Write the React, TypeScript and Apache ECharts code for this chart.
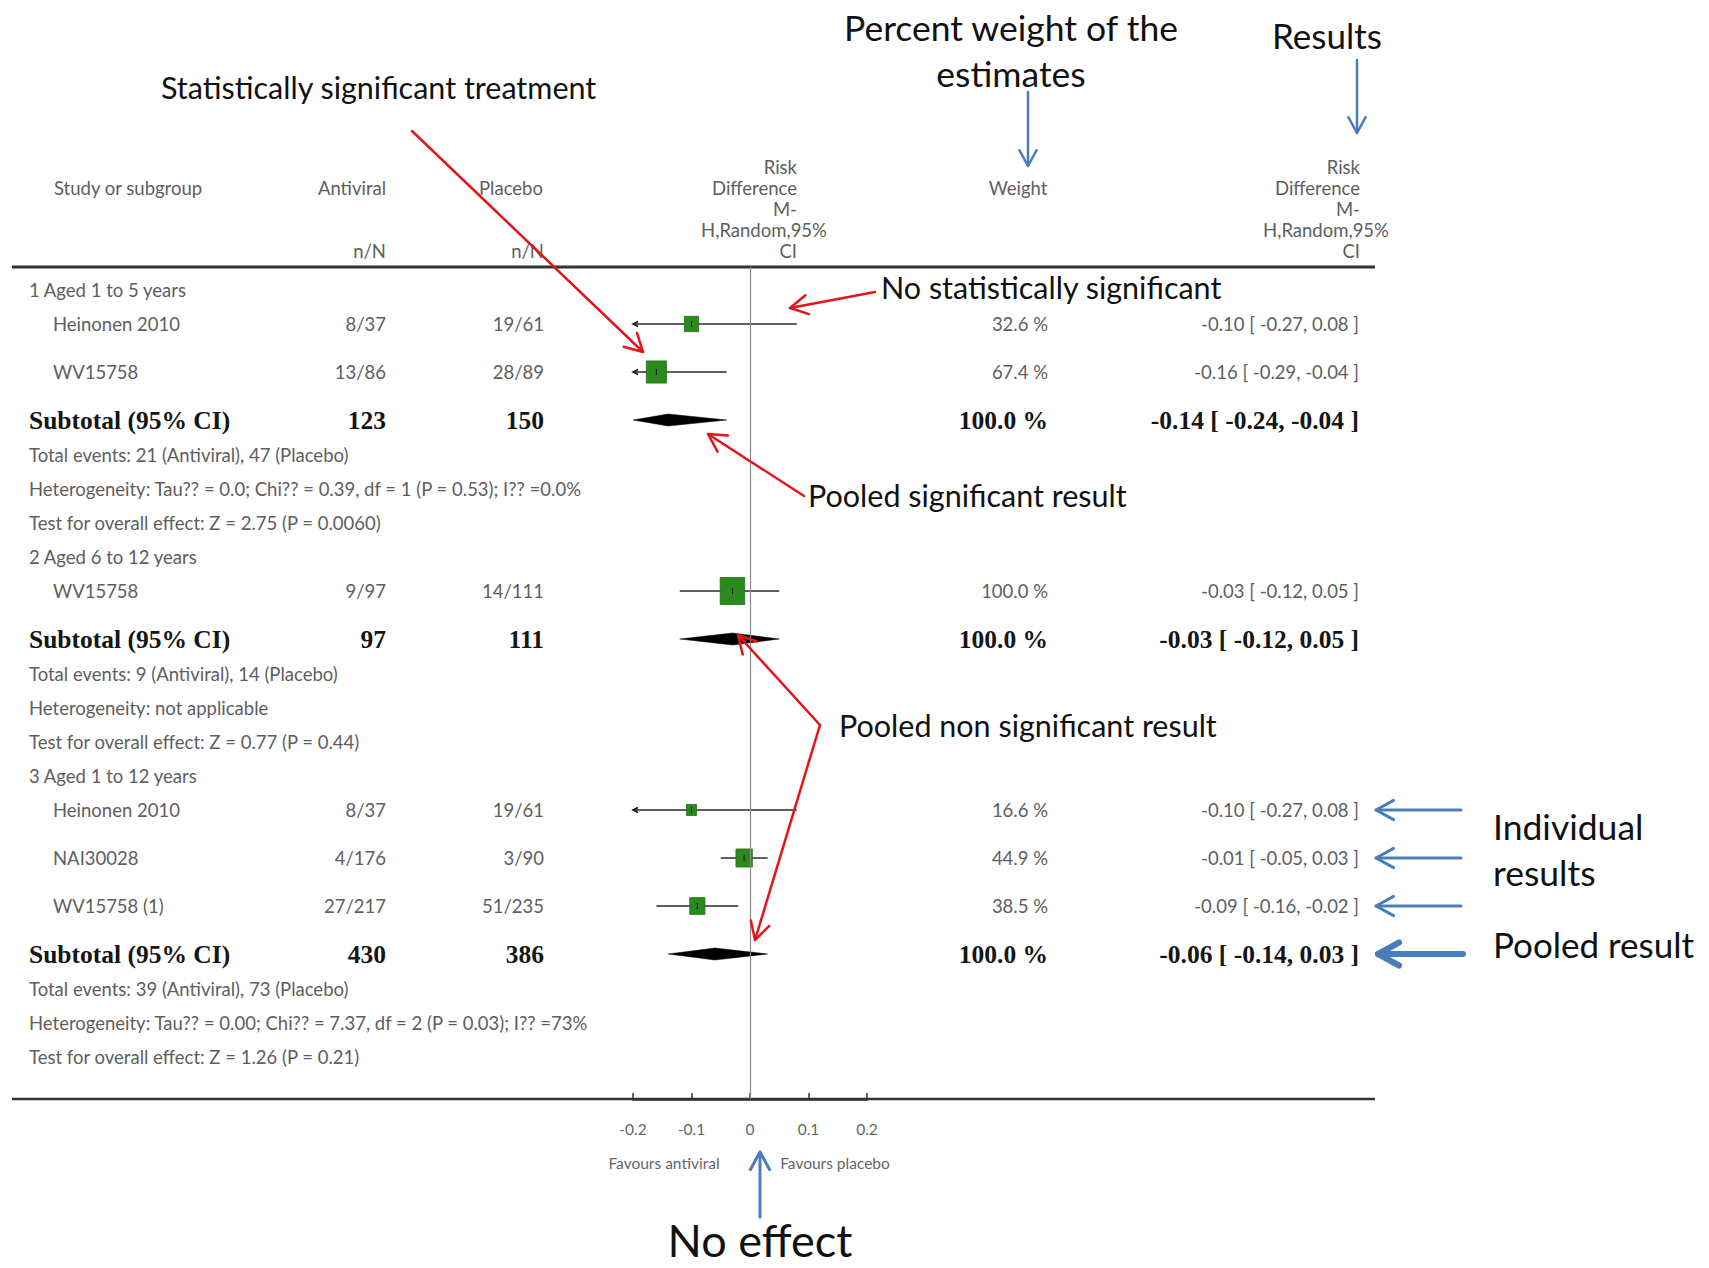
import React, { useEffect, useRef } from "react";
import * as echarts from "echarts";

// ---------------- data ----------------
const subgroupTitles = ["1 Aged 1 to 5 years", "2 Aged 6 to 12 years", "3 Aged 1 to 12 years"];
const studyGroup = [0, 0, 1, 2, 2, 2];
const studyNames = ["Heinonen 2010", "WV15758", "WV15758", "Heinonen 2010", "NAI30028", "WV15758 (1)"];
const antiviralNN = ["8/37", "13/86", "9/97", "8/37", "4/176", "27/217"];
const placeboNN = ["19/61", "28/89", "14/111", "19/61", "3/90", "51/235"];
const studyWeight = [32.6, 67.4, 100.0, 16.6, 44.9, 38.5];
const studyRD = [-0.1, -0.16, -0.03, -0.1, -0.01, -0.09];
const studyLow = [-0.27, -0.29, -0.12, -0.27, -0.05, -0.16];
const studyHigh = [0.08, -0.04, 0.05, 0.08, 0.03, -0.02];
const subtotalAntiviral = [123, 97, 430];
const subtotalPlacebo = [150, 111, 386];
const subtotalWeight = [100.0, 100.0, 100.0];
const subtotalRD = [-0.14, -0.03, -0.06];
const subtotalLow = [-0.24, -0.12, -0.14];
const subtotalHigh = [-0.04, 0.05, 0.03];
const totalEvents = [
  "Total events: 21 (Antiviral), 47 (Placebo)",
  "Total events: 9 (Antiviral), 14 (Placebo)",
  "Total events: 39 (Antiviral), 73 (Placebo)",
];
const heterogeneity = [
  "Heterogeneity: Tau?? = 0.0; Chi?? = 0.39, df = 1 (P = 0.53); I?? =0.0%",
  "Heterogeneity: not applicable",
  "Heterogeneity: Tau?? = 0.00; Chi?? = 7.37, df = 2 (P = 0.03); I?? =73%",
];
const overallEffect = [
  "Test for overall effect: Z = 2.75 (P = 0.0060)",
  "Test for overall effect: Z = 0.77 (P = 0.44)",
  "Test for overall effect: Z = 1.26 (P = 0.21)",
];
const xTicks = [-0.2, -0.1, 0, 0.1, 0.2];
const favoursLeft = "Favours antiviral";
const favoursRight = "Favours placebo";

// ---------------- layout ----------------
const XMIN = -0.2;
const XMAX = 0.2;
const Y_AXIS = 1099;
const Y_HEAD = 267;
const GRAY = "#5e5e5e";
const SANS = "Lato";
const SERIF = "Liberation Serif";
const ANN = "Lato";
const RED = "#e3151b";
const BLUE = "#4a7ebb";
const FS = 18.5;

type Row = { kind: "title" | "study" | "subtotal" | "text"; g: number; i?: number; text?: string; y?: number };
const rows: Row[] = [];
subgroupTitles.forEach((t, g) => {
  rows.push({ kind: "title", g, text: t });
  studyGroup.forEach((sg, i) => {
    if (sg === g) rows.push({ kind: "study", g, i });
  });
  rows.push({ kind: "subtotal", g });
  rows.push({ kind: "text", g, text: totalEvents[g] });
  rows.push({ kind: "text", g, text: heterogeneity[g] });
  rows.push({ kind: "text", g, text: overallEffect[g] });
});
{
  let y = 290;
  let prev = "";
  rows.forEach((r, k) => {
    if (k > 0) {
      let step = 34;
      if ((r.kind === "study" && prev === "study") || r.kind === "subtotal") step = 48;
      else if (r.kind === "text" && prev === "subtotal") step = 35;
      y += step;
    }
    r.y = y;
    prev = r.kind;
  });
}
const studyRowY = studyNames.map((_, i) => rows.find((r) => r.kind === "study" && r.i === i)!.y!);
const subtotalRowY = subgroupTitles.map((_, g) => rows.find((r) => r.kind === "subtotal" && r.g === g)!.y!);

const fmt = (v: number) => v.toFixed(2);
const ciText = (e: number, l: number, h: number) => `${fmt(e)} [ ${fmt(l)}, ${fmt(h)} ]`;

function txt(x: number, y: number, text: string, o: any = {}) {
  const align = o.align || "left";
  return {
    type: "text",
    x,
    y,
    z: 10,
    style: {
      text,
      fill: o.fill || GRAY,
      fontSize: o.size || FS,
      fontFamily: o.family || SANS,
      fontWeight: o.weight || "normal",
      align,
      textAlign: align,
      verticalAlign: "middle",
      textVerticalAlign: "middle",
    },
  };
}

function arrow(x1: number, y1: number, x2: number, y2: number, color: string, lw: number, head = 16, spread = 0.5) {
  const a = Math.atan2(y2 - y1, x2 - x1);
  const p1 = [x2 - head * Math.cos(a - spread), y2 - head * Math.sin(a - spread)];
  const p2 = [x2 - head * Math.cos(a + spread), y2 - head * Math.sin(a + spread)];
  return [
    { type: "line", z: 20, shape: { x1, y1, x2, y2 }, style: { stroke: color, lineWidth: lw, lineCap: "round" } },
    {
      type: "polyline",
      z: 20,
      shape: { points: [p1, [x2, y2], p2] },
      style: { stroke: color, lineWidth: lw, fill: null, lineCap: "round", lineJoin: "round" },
    },
  ];
}

function buildGraphics() {
  const g: any[] = [];
  // rules
  g.push({ type: "line", z: 5, shape: { x1: 12, y1: Y_HEAD, x2: 1375, y2: Y_HEAD }, style: { stroke: "#333", lineWidth: 3 } });
  g.push({ type: "line", z: 5, shape: { x1: 12, y1: Y_AXIS, x2: 1375, y2: Y_AXIS }, style: { stroke: "#333", lineWidth: 2.5 } });

  // headers
  g.push(txt(54, 188, "Study or subgroup"));
  g.push(txt(352, 188, "Antiviral", { align: "center" }));
  g.push(txt(386, 251, "n/N", { align: "right" }));
  g.push(txt(511, 188, "Placebo", { align: "center" }));
  g.push(txt(544, 251, "n/N", { align: "right" }));
  const rdHead = ["Risk", "Difference", "M-", "H,Random,95%", "CI"];
  const headY = [167, 188, 209, 230, 251];
  rdHead.forEach((t, k) => {
    if (t === "H,Random,95%") {
      g.push(txt(764, headY[k], t, { align: "center" }));
      g.push(txt(1326, headY[k], t, { align: "center" }));
    } else {
      g.push(txt(797, headY[k], t, { align: "right" }));
      g.push(txt(1360, headY[k], t, { align: "right" }));
    }
  });
  g.push(txt(1018, 188, "Weight", { align: "center" }));

  // table rows
  rows.forEach((r) => {
    const y = r.y!;
    if (r.kind === "title" || r.kind === "text") {
      g.push(txt(29, y, r.text!));
    } else if (r.kind === "study") {
      const i = r.i!;
      g.push(txt(53, y, studyNames[i]));
      g.push(txt(386, y, antiviralNN[i], { align: "right" }));
      g.push(txt(544, y, placeboNN[i], { align: "right" }));
      g.push(txt(1048, y, `${studyWeight[i].toFixed(1)} %`, { align: "right" }));
      g.push(txt(1359, y, ciText(studyRD[i], studyLow[i], studyHigh[i]), { align: "right" }));
    } else {
      const k = r.g;
      const o = { family: SERIF, weight: "bold", size: 25.5, fill: "#151515" };
      g.push(txt(29, y, "Subtotal (95% CI)", o));
      g.push(txt(386, y, String(subtotalAntiviral[k]), { ...o, align: "right" }));
      g.push(txt(544, y, String(subtotalPlacebo[k]), { ...o, align: "right" }));
      g.push(txt(1048, y, `${subtotalWeight[k].toFixed(1)} %`, { ...o, align: "right" }));
      g.push(txt(1359, y, ciText(subtotalRD[k], subtotalLow[k], subtotalHigh[k]), { ...o, align: "right" }));
    }
  });

  // favours labels
  g.push(txt(664, 1163, favoursLeft, { align: "center", size: 15.5, fill: "#666" }));
  g.push(txt(835, 1163, favoursRight, { align: "center", size: 15.5, fill: "#666" }));

  // annotations
  const A = { family: ANN, fill: "#111", size: 30.5 };
  g.push(txt(161, 87, "Statistically significant treatment", A));
  g.push(txt(1011, 27, "Percent weight of the", { ...A, align: "center", size: 35.5 }));
  g.push(txt(1011, 73, "estimates", { ...A, align: "center", size: 35.5 }));
  g.push(txt(1327, 35, "Results", { ...A, align: "center", size: 35 }));
  g.push(txt(881, 287, "No statistically significant", A));
  g.push(txt(808, 495, "Pooled significant result", A));
  g.push(txt(839, 725, "Pooled non significant result", A));
  g.push(txt(1493, 826, "Individual", { ...A, size: 35.5 }));
  g.push(txt(1493, 872, "results", { ...A, size: 35.5 }));
  g.push(txt(1493, 944, "Pooled result", { ...A, size: 35 }));
  g.push(txt(760, 1240, "No effect", { ...A, align: "center", size: 45 }));

  // red arrows
  g.push(...arrow(412, 131, 643, 352, RED, 2.5, 20));
  g.push(...arrow(875, 292, 790, 308, RED, 2.5, 20));
  g.push(...arrow(804, 496, 708, 434, RED, 2.5, 20));
  g.push(...arrow(820, 725, 738, 635, RED, 2.5, 20));
  g.push(...arrow(820, 725, 755, 940, RED, 2.5, 20));

  // blue arrows
  g.push(...arrow(1028, 92, 1028, 166, BLUE, 2.5, 18));
  g.push(...arrow(1357, 60, 1357, 133, BLUE, 2.5, 18));
  studyRowY.slice(3).forEach((y) => g.push(...arrow(1461, y, 1376, y, BLUE, 3, 20)));
  g.push(...arrow(1463, subtotalRowY[2], 1378, subtotalRowY[2], BLUE, 6, 24));
  g.push(...arrow(760, 1217, 760, 1152, BLUE, 3, 20));
  return g;
}

export default function App() {
  const ref = useRef<HTMLDivElement>(null);
  useEffect(() => {
    if (!ref.current) return;
    const chart = echarts.init(ref.current, null, { renderer: "svg" });
    const studyData = studyRD.map((v, i) => [v, studyRowY[i], studyLow[i], studyHigh[i], studyWeight[i]]);
    const diamondData = subtotalRD.map((v, k) => [v, subtotalRowY[k], subtotalLow[k], subtotalHigh[k]]);
    chart.setOption({
      animation: false,
      backgroundColor: "#ffffff",
      grid: { left: 633, right: 1709 - 867, top: 0, bottom: 1268 - Y_AXIS },
      xAxis: {
        type: "value",
        position: "bottom",
        min: XMIN,
        max: XMAX,
        interval: 0.1,
        splitLine: { show: false },
        axisLine: { show: true, onZero: false, lineStyle: { color: "#333", width: 2.5 } },
        axisTick: { show: true, inside: true, length: 6, lineStyle: { color: "#333", width: 1.5 } },
        axisLabel: {
          color: "#666",
          fontSize: 15.5,
          fontFamily: SANS,
          margin: 22,
          formatter: (v: number) => String(Math.round(v * 10) / 10),
        },
      },
      yAxis: { type: "value", min: 0, max: Y_AXIS, inverse: true, show: false },
      series: [
        {
          type: "custom",
          name: "studies",
          data: studyData,
          encode: { x: [0, 2, 3], y: 1 },
          z: 3,
          renderItem: (params: any, api: any) => {
            const est = api.value(0);
            const y = api.value(1);
            const lo = api.value(2);
            const hi = api.value(3);
            const w = api.value(4);
            const pLo = api.coord([Math.max(lo, XMIN), y]);
            const pHi = api.coord([Math.min(hi, XMAX), y]);
            const pE = api.coord([est, y]);
            const s = 2.45 * Math.sqrt(w);
            const children: any[] = [
              { type: "line", shape: { x1: pLo[0], y1: pLo[1], x2: pHi[0], y2: pHi[1] }, style: { stroke: "#2a2a2a", lineWidth: 1.6 } },
              {
                type: "rect",
                shape: { x: pE[0] - s / 2, y: pE[1] - (s * 1.1) / 2, width: s, height: s * 1.1 },
                style: { fill: "#2b8a1e", stroke: "#1f6e14", lineWidth: 0.8 },
              },
              { type: "line", shape: { x1: pE[0], y1: pE[1] - 3, x2: pE[0], y2: pE[1] + 3 }, style: { stroke: "#111", lineWidth: 1 } },
            ];
            if (lo < XMIN) {
              children.push({
                type: "polyline",
                shape: { points: [[pLo[0] + 5, pLo[1] - 2.5], [pLo[0], pLo[1]], [pLo[0] + 5, pLo[1] + 2.5]] },
                style: { stroke: "#111", lineWidth: 1.6, fill: null },
              });
            }
            if (hi > XMAX) {
              children.push({
                type: "polyline",
                shape: { points: [[pHi[0] - 5, pHi[1] - 2.5], [pHi[0], pHi[1]], [pHi[0] - 5, pHi[1] + 2.5]] },
                style: { stroke: "#111", lineWidth: 1.6, fill: null },
              });
            }
            return { type: "group", children };
          },
        },
        {
          type: "custom",
          name: "subtotals",
          data: diamondData,
          encode: { x: [0, 2, 3], y: 1 },
          z: 3,
          renderItem: (params: any, api: any) => {
            const est = api.value(0);
            const y = api.value(1);
            const pLo = api.coord([Math.max(api.value(2), XMIN), y]);
            const pHi = api.coord([Math.min(api.value(3), XMAX), y]);
            const pE = api.coord([est, y]);
            const h = 6;
            return {
              type: "polygon",
              shape: { points: [[pLo[0], pE[1]], [pE[0], pE[1] - h], [pHi[0], pE[1]], [pE[0], pE[1] + h]] },
              style: { fill: "#000", stroke: "#000", lineWidth: 0.5 },
            };
          },
        },
        {
          type: "line",
          name: "no effect",
          data: [],
          silent: true,
          markLine: {
            symbol: ["none", "none"],
            silent: true,
            label: { show: false },
            lineStyle: { color: "#8a8a8a", width: 1.2, type: "solid" },
            data: [[{ coord: [0, Y_HEAD] }, { coord: [0, Y_AXIS] }]],
          },
        },
      ],
      graphic: buildGraphics(),
    });
    return () => chart.dispose();
  }, []);
  return <div ref={ref} style={{ position: "absolute", left: 0, top: 0, width: 1709, height: 1268 }} />;
}
